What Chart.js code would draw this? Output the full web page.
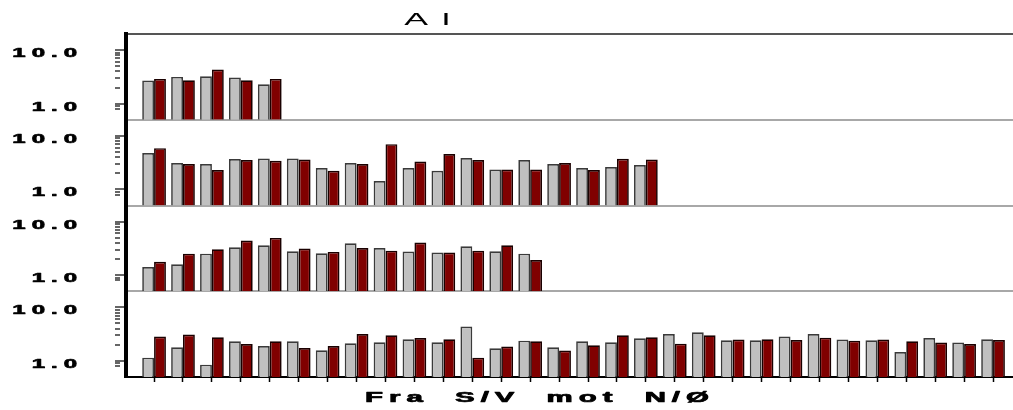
<!DOCTYPE html>
<html>
<head>
<meta charset="utf-8">
<script src="https://cdn.jsdelivr.net/npm/chart.js@4.4.1/dist/chart.umd.min.js"></script>
<style>
  html, body { margin: 0; padding: 0; background: #ffffff; }
  #wrap { position: relative; width: 1013px; height: 410px; }
</style>
</head>
<body>
<div id="wrap"><canvas id="chart" width="1013" height="410"></canvas></div>
<script>
// Text
const chartTitle = 'Al';
const axisTitle = 'Fra S/V mot N/Ø';

// Station positions along the transect (1 = south-west)
const stations = Array.from({ length: 30 }, (_, i) => i + 1);

// Log axis ticks
const labelledTicks = [1, 10];
const tickLabels = ['1.0', '10.0'];
const minorTicks = [0.8, 0.9, 2, 3, 4, 5, 6, 7, 8, 9];

// Panel 1 (top)
const panel1Grey = [2.7, 3.16, 3.25, 3.07, 2.3];
const panel1Red  = [2.9, 2.74, 4.35, 2.74, 2.9];

// Panel 2
const panel2Grey = [4.77, 3.1, 2.97, 3.68, 3.78, 3.78, 2.5, 3.1, 1.43, 2.5, 2.23, 3.85, 2.36, 3.53, 2.97, 2.5, 2.61, 2.84];
const panel2Red  = [5.9, 2.97, 2.3, 3.53, 3.43, 3.62, 2.23, 2.97, 7.0, 3.32, 4.57, 3.53, 2.36, 2.36, 3.1, 2.3, 3.73, 3.62];

// Panel 3
const panel3Grey = [1.42, 1.6, 2.52, 3.32, 3.62, 2.8, 2.57, 3.95, 3.22, 2.75, 2.64, 3.47, 2.8, 2.52];
const panel3Red  = [1.77, 2.52, 3.05, 4.42, 4.96, 3.13, 2.72, 3.22, 2.87, 4.05, 2.64, 2.87, 3.62, 1.92];

// Panel 4 (bottom)
const panel4Grey = [1.15, 1.8, 0.85, 2.32, 1.9, 2.32, 1.58, 2.13, 2.23, 2.53, 2.23, 4.38, 1.72, 2.39, 1.8, 2.32, 2.23, 2.64, 3.18, 3.42, 2.43, 2.43, 2.85, 3.18, 2.5, 2.43, 1.47, 2.68, 2.2, 2.53];
const panel4Red  = [2.85, 3.1, 2.76, 2.07, 2.32, 1.74, 1.9, 3.18, 3.01, 2.68, 2.53, 1.15, 1.85, 2.32, 1.56, 1.96, 3.01, 2.76, 2.1, 3.01, 2.5, 2.53, 2.46, 2.72, 2.39, 2.5, 2.32, 2.2, 2.07, 2.46];

const GREY = '#c0c0c0', GREY_EDGE = '#3a3a3a';
const RED = '#800000', RED_EDGE = '#1a0000';

const panels = [
  { id: 'p1', grey: panel1Grey, red: panel1Red },
  { id: 'p2', grey: panel2Grey, red: panel2Red },
  { id: 'p3', grey: panel3Grey, red: panel3Red },
  { id: 'p4', grey: panel4Grey, red: panel4Red }
];

const datasets = [];
panels.forEach(p => {
  datasets.push({
    label: 'Serie 1', data: p.grey, yAxisID: p.id, stack: 'a',
    backgroundColor: GREY, borderColor: GREY_EDGE, borderWidth: 1.7
  });
  datasets.push({
    label: 'Serie 2', data: p.red, yAxisID: p.id, stack: 'b',
    backgroundColor: RED, borderColor: RED_EDGE, borderWidth: 1.7
  });
});

// One log axis per panel, stacked on the left
const scales = {
  x: {
    type: 'linear',
    position: 'bottom',
    offset: false,
    min: 0.03,
    max: 30.69,
    afterBuildTicks: s => { s.ticks = stations.map(v => ({ value: v })); },
    afterFit: s => { s.height = 33; },
    ticks: { display: false },
    grid: { display: true, offset: false, drawOnChartArea: false, drawTicks: true, tickLength: 5, tickColor: '#000', tickWidth: 1.5 },
    border: { display: true, color: '#000', width: 2 }
  }
};
panels.forEach((p, i) => {
  scales[p.id] = {
    type: 'logarithmic',
    position: 'left',
    stack: 'panels',
    stackWeight: 1,
    weight: 4 - i,
    min: 0.5,
    max: 20,
    afterBuildTicks: s => {
      s.ticks = minorTicks.concat(labelledTicks, [20]).sort((a, b) => a - b).map(v => ({ value: v }));
    },
    afterFit: s => { s.width = 126; },
    ticks: { display: false },
    grid: {
      display: true,
      drawOnChartArea: true,
      drawTicks: true,
      tickLength: 11,
      lineWidth: 2,
      color: c => c.tick && c.tick.value === 20 ? (i === 0 ? '#555555' : '#a8a8a8') : 'rgba(0,0,0,0)',
      tickColor: c => c.tick && c.tick.value === 20 ? 'rgba(0,0,0,0)' : '#000',
      tickWidth: 1.2,
      tickBorderDash: c => c.tick && labelledTicks.includes(c.tick.value) ? [] : [5, 40]
    },
    border: { display: true, color: '#000', width: 4 }
  };
});

// Draws text with widened glyphs and extra tracking
function drawWide(ctx, text, x, y, o) {
  ctx.save();
  ctx.font = o.font;
  ctx.fillStyle = o.color || '#000';
  ctx.strokeStyle = o.color || '#000';
  ctx.lineWidth = o.heavy || 0;
  ctx.lineJoin = 'round';
  ctx.textAlign = 'left';
  ctx.textBaseline = 'alphabetic';
  const chars = Array.from(text);
  const adv = chars.map(ch => ctx.measureText(ch).width * o.sx + (ch === ' ' ? (o.wordGap || 0) : 0));
  const total = adv.reduce((a, b) => a + b, 0) + o.gap * (chars.length - 1);
  let cx = o.align === 'right' ? x - total : o.align === 'center' ? x - total / 2 : x;
  chars.forEach((ch, k) => {
    ctx.save();
    ctx.translate(cx, y);
    ctx.scale(o.sx, 1);
    ctx.fillText(ch, 0, 0);
    if (o.heavy) ctx.strokeText(ch, 0, 0);
    ctx.restore();
    cx += adv[k] + o.gap;
  });
  ctx.restore();
}

const widePlugin = {
  id: 'wideText',
  afterDraw(chart) {
    const ctx = chart.ctx;
    drawWide(ctx, chartTitle, 427, 25, { font: '17px "Liberation Sans"', sx: 2.1, gap: 14, align: 'center' });
    drawWide(ctx, axisTitle, 537, 402, { font: 'bold 14px "Liberation Sans"', sx: 2.1, gap: 6, wordGap: 12, heavy: 0.7, align: 'center' });
    panels.forEach(p => {
      const s = chart.scales[p.id];
      labelledTicks.forEach((v, k) => {
        drawWide(ctx, tickLabels[k], 77, s.getPixelForValue(v) + 7, { font: 'bold 12px "Liberation Sans"', sx: 2, gap: 6, heavy: 0.6, align: 'right' });
      });
    });
  }
};

new Chart(document.getElementById('chart'), {
  type: 'bar',
  data: { labels: stations, datasets },
  options: {
    responsive: false,
    animation: false,
    devicePixelRatio: 1,
    categoryPercentage: 0.82,
    barPercentage: 1.0,
    layout: { padding: { top: 34, left: 0, right: 0, bottom: 0 } },
    plugins: { legend: { display: false }, title: { display: false }, tooltip: { enabled: false } },
    scales
  },
  plugins: [widePlugin]
});
</script>
</body>
</html>
